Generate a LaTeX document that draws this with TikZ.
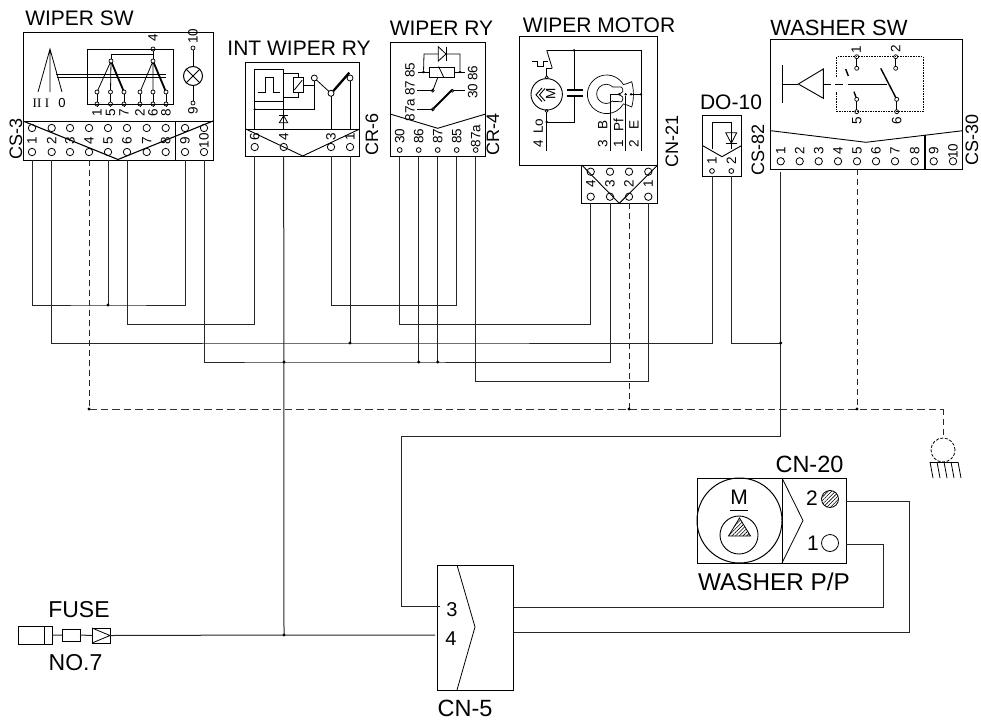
\documentclass[tikz,border=0pt]{standalone}
\usepackage{fontspec}
\setmainfont{Liberation Sans}
\newfontfamily\serifI{Liberation Serif}
\usetikzlibrary{patterns,patterns.meta}
\tikzset{
  wire/.style={line width=1pt,black!85},
  thin1/.style={line width=.8pt},
  thick1/.style={line width=2.3pt},
  dash1/.style={line width=.9pt,dash pattern=on 6pt off 4pt,black!85},
  dash2/.style={line width=1pt,dash pattern=on 7.5pt off 4pt,black!80},
  edge1/.style={line width=.9pt},
  boxs/.style={draw,line width=1pt,inner sep=0pt,outer sep=0pt},
  pin/.style={circle,draw,line width=.8pt,inner sep=0pt,minimum size=7.4pt,outer sep=0pt},
  spin/.style={circle,draw,line width=.8pt,inner sep=0pt,minimum size=4.8pt,outer sep=0pt},
  tp/.style={circle,draw,line width=.7pt,inner sep=0pt,minimum size=4pt,outer sep=0pt},
  jd/.style={circle,fill=black,inner sep=0pt,minimum size=3.4pt,outer sep=0pt},
  big/.style={inner sep=0pt,font=\fontsize{21}{21}\selectfont},
  bigger/.style={inner sep=0pt,font=\fontsize{23.5}{23.5}\selectfont},
  side/.style={inner sep=0pt,rotate=90,font=\fontsize{18}{18}\selectfont},
  num/.style={inner sep=0pt,rotate=90,font=\fontsize{13.5}{13.5}\selectfont},
  hatch/.style={pattern={Lines[angle=45,distance=2.6pt,line width=.6pt]}},
}
\newcommand{\boxn}[5]{%
  \pgfmathsetmacro\bw{#4-#2}\pgfmathsetmacro\bh{#5-#3}%
  \pgfmathsetmacro\bx{(#2+#4)/2}\pgfmathsetmacro\by{(#3+#5)/2}%
  \node[boxs,minimum width=\bw pt,minimum height=\bh pt] (#1) at (\bx,\by) {};}
\begin{document}
\begin{tikzpicture}[x=1pt,y=-1pt]
\useasboundingbox (0,0) rectangle (981,720);
\fill[white] (0,0) rectangle (981,720);

% ---------- titles
\node[big] (tsw) at (79.5,18) {WIPER SW};
\node[big] (tint) at (299,48) {INT WIPER RY};
\node[big] (trly) at (441.5,28) {WIPER RY};
\node[big] (tmot) at (599,25) {WIPER MOTOR};
\node[big] (tdo) at (731,102) {DO-10};
\node[big,font=\fontsize{22}{22}\selectfont] (twsh) at (839,28) {WASHER SW};
\node[bigger] (tcn20) at (809.5,464) {CN-20};
\node[bigger,font=\fontsize{24.3}{24.3}\selectfont] (tpp) at (774,582) {WASHER P/P};
\node[bigger,font=\fontsize{23}{23}\selectfont] (tfuse) at (79,610) {FUSE};
\node[bigger,font=\fontsize{23}{23}\selectfont] (tno) at (75.5,663) {NO.7};
\node[bigger] (tcn5) at (465,708) {CN-5};
\node[side] (scs3) at (16,139) {CS-3};
\node[side] (scr6) at (372,134) {CR-6};
\node[side] (scr4) at (493,134) {CR-4};
\node[side] (scn21) at (672,141) {CN-21};
\node[side] (scs82) at (758,150) {CS-82};
\node[side] (scs30) at (972,140) {CS-30};

% ---------- WIPER SW
\boxn{swbox}{23}{32}{213}{160}
\draw[edge1] (swbox.west |- 0,121) -- (swbox.east |- 0,121);
\draw[line width=1.1pt] (23,121) -- (118,159.5) -- (213,121);
\draw[line width=1.6pt] (175.5,121) -- (175.5,160);
\foreach \n/\x in {1/32,2/51.7,3/70,4/89,5/108,6/127,7/146.7,8/165.7,9/185,10/204}{
  \node[pin] (swt\n) at (\x,128) {};
  \node[pin] (sw\n) at (\x,152) {};
  \node[num] (swl\n) at (\x,140.5) {\n};
}
\draw[thin1] (38,92) -- (50,49) -- (62,92) (50,49) -- (50,92);
\draw[thin1] (56,74.7) -- (166,74.7) (57,77) -- (166,77);
\node[inner sep=0pt,font=\serifI\fontsize{13}{13}\selectfont] (sII) at (37,103) {II};
\node[inner sep=0pt,font=\serifI\fontsize{13}{13}\selectfont] (sI) at (47,103) {I};
\node[inner sep=0pt,font=\fontsize{13}{13}\selectfont] (s0) at (62,103) {0};
\draw[thin1] (87,49) rectangle (173,104);
\node[tp] (sp1) at (111,61) {};
\node[tp] (sp2) at (153,61) {};
\node[tp] (sp4) at (153,49) {};
\draw[thin1] (sp4) -- (sp2);
\draw[thin1] (153,54) -- (111,54) -- (sp1);
\foreach \n/\x in {1/97,5/110.5,7/124,2/140,6/153,8/166}{
  \node[tp] (sc\n) at (\x,92) {};
  \node[tp] (sd\n) at (\x,104) {};
  \draw[thin1] (sc\n) -- (sd\n) -- ++(0,3);
  \node[num] (sl\n) at (\x,113) {\n};
}
\draw[thin1] (sp1) -- (sc1) (sp1) -- (sc5) (sp2) -- (sc2) (sp2) -- (sc6);
\draw[line width=1.8pt] (sp1) -- (sc7) (sp2) -- (sc8);
\node[num] (sl4) at (153,38) {4};
\node[num] (sl10) at (193,36) {10};
\node[num] (sl9) at (193,111) {9};
\node[tp] (la) at (193,48) {};
\node[tp] (lb) at (193,103) {};
\node[circle,draw,line width=1pt,inner sep=0pt,minimum size=19pt] (lamp) at (193,76) {};
\draw[thin1] (la) -- (lamp) (lb) -- (lamp);
\draw[thin1] (lamp.45) -- (lamp.225) (lamp.135) -- (lamp.315);

% ---------- INT WIPER RY
\boxn{intbox}{245.7}{62}{359.7}{156}
\draw[edge1] (245.7,129) -- (359.7,129);
\draw[edge1] (245.7,129) -- (302.7,156) -- (359.7,129);
\foreach \n/\x in {6/254.7,4/283.7,3/331,1/350}{
  \node[pin] (int\n) at (\x,147) {};
  \node[num] (intl\n) at (\x,137) {\n};
}
\draw[thin1] (254.7,69) rectangle (283.7,101);
\draw[thin1] (257.7,92.3) -- (265,92.3) -- (265,77.3) -- (273.3,77.3) -- (273.3,92.3) -- (280.3,92.3);
\draw[thin1] (283.7,73.3) -- (298.3,73.3) -- (298.3,77.7);
\draw[thin1] (283.7,97.3) -- (298.3,97.3) -- (298.3,92.3);
\draw[thin1] (293.3,77.7) rectangle (303.3,92.3);
\draw[thin1] (294.3,90) -- (302.3,80);
\draw[thin1] (303.3,85) -- (314.3,85);
\draw[thin1] (254.7,101) -- (254.7,129);
\draw[thin1] (283.7,101) -- (283.7,129);
\draw[thin1] (279.3,122.7) -- (287.7,122.7) -- (283.7,115.7) -- cycle;
\draw[thin1] (279,115.7) -- (288.2,115.7);
\node[spin,minimum size=6pt] (ia) at (314.3,78) {};
\node[spin,minimum size=6pt] (ib) at (331,93.3) {};
\node[spin,minimum size=6pt] (ic) at (350,78) {};
\draw[thin1] (ia) -- (ib);
\draw[thin1] (ia) -- (314.3,109.3) -- (254.7,109.3);
\node[jd,minimum size=2.5pt] (ij) at (254.7,109.3) {};
\draw[thick1] (ib.north east) -- (349.3,72.7);
\draw[thin1] (ib) -- (331,129) (ic) -- (350,129);

% ---------- WIPER RY
\boxn{rlybox}{390}{42.3}{485.7}{156.7}
\draw[edge1] (390,114) -- (437.7,128.3) -- (485.7,114);
\foreach \n/\x/\l in {30/399.7/30,86/418.7/86,87/437.7/87,85/456.7/85,a/475.7/87a}{
  \node[spin] (rly\n) at (\x,150) {};
  \node[num] (rlyl\n) at (\x,136) {\l};
}
\node[num] (rt85) at (410,70) {85};
\node[num] (rt87) at (410,88) {87};
\node[num] (rt87a) at (410,110) {87a};
\node[num] (rt86) at (472.7,73) {86};
\node[num] (rt30) at (472.7,91) {30};
\draw[thin1] (429.3,67.7) rectangle (454.7,77.7);
\draw[thin1] (438.5,66.5) -- (444,77.7);
\draw[thin1] (418.3,72) -- (429.3,72) (454.7,72) -- (465,72);
\node[jd,minimum size=2.8pt] (r1) at (423.5,72) {};
\node[jd,minimum size=2.8pt] (r2) at (460,72) {};
\draw[thin1] (r1) -- (424,54) -- (438.3,54) (446.3,54) -- (460,54) -- (r2);
\draw[thin1] (438.3,46.7) -- (438.3,61) -- (446,54) -- cycle;
\draw[thin1] (446,46.7) -- (446,61);
\draw[thin1] (437.7,77.7) -- (433,90);
\draw[thin1] (417,90.7) -- (432.5,90.7) (452.5,90.7) -- (465,90.7) (417,109.3) -- (432.5,109.3);
\node[tp,minimum size=3pt] (r3) at (432.7,90.7) {};
\node[tp,minimum size=3pt] (r4) at (452.3,90.7) {};
\node[tp,minimum size=3pt] (r5) at (432.7,109.3) {};
\draw[line width=1.8pt] (r5) -- (452,90);

% ---------- WIPER MOTOR
\boxn{motbox}{519.3}{36}{657.7}{165}
\boxn{motcon}{581.7}{165}{657.7}{203.3}
\draw[edge1] (581.7,165) -- (619.3,203.3) -- (657.7,165);
\foreach \n/\x in {4/590.7,3/610,2/629,1/648.3}{
  \node[pin] (mott\n) at (\x,171.7) {};
  \node[pin] (mot\n) at (\x,196.7) {};
  \node[num] (motl\n) at (\x,183.5) {\n};
}
\node[circle,draw,line width=.9pt,inner sep=0pt,minimum size=31.4pt] (mm) at (546.7,94.3) {};
\node[tp,minimum size=3pt] (ma) at (546.7,77.3) {};
\node[tp,minimum size=3pt] (mb) at (546.7,111) {};
\node[inner sep=0pt,rotate=90,font=\fontsize{13.5}{13.5}\selectfont] (mM) at (550.7,94.3) {M};
\draw[line width=.9pt] (542,88) -- (536,94.8) -- (542,101.6);
\draw[line width=.9pt] (545,88.5) -- (539.5,94.8) -- (545,101);
\draw[thin1] (mb) -- (546.7,150.7);
\draw[thin1] (546.7,122) -- (574,122) -- (574,96);
\node[jd,minimum size=2.6pt] (m1) at (546.7,122) {};
\draw[line width=1.3pt] (566.7,90) -- (582.7,90) (566.7,96) -- (582.7,96);
\draw[thin1] (574,90) -- (574,50.3);
\node[jd,minimum size=2.6pt] (m2) at (574,50.3) {};
\draw[thin1] (546.7,50.3) -- (641,50.3) -- (641,150.7);
\draw[thin1] (546.7,50.3) -- (552.3,68.3);
\draw[thin1] (532.3,61.7) -- (537,61.7) -- (537,66.7) -- (543.5,66.7) -- (543.5,61.7) -- (547.5,61.7);
\draw[thin1] (546.7,68.3) -- (552.3,68.3) (546.7,68.3) -- (ma);
% cam
\draw[line width=.7pt] (623.4,84.65) arc[start angle=30,end angle=330,radius=19.3pt]
  .. controls (626,104.6) and (629,105.5) .. (631.7,107)
  .. controls (634,99) and (634,90) .. (631.7,81.7)
  .. controls (629,83) and (626,84) .. (623.4,84.65);
\draw[line width=.7pt] plot[smooth,tension=.6] coordinates {(613,101.5) (618,101.5) (621.7,101.7) (622.7,97) (618.3,94.3)};
\draw[line width=.7pt] plot[smooth,tension=.6] coordinates {(618.3,94.3) (622.7,91.7) (621.7,87.3) (618,87) (613,87.1)};
\draw[line width=.7pt] (613,87.1) arc[start angle=45,end angle=315,radius=9.6pt];
\node[jd,minimum size=2.6pt] (c1) at (619.3,94.3) {};
\node[jd,minimum size=2.6pt] (c2) at (625.7,94.3) {};
\node[jd,minimum size=2.6pt] (c3) at (631,94.3) {};
\node[jd,minimum size=2.6pt] (c4) at (641,94.3) {};
\draw[thin1] (610,150.7) -- (610,94.3) -- (c1);
\draw[thin1] (c2) -- (625.7,150.7);
\draw[thin1] (c3) -- (c4);
\foreach \t/\x/\y/\m in {4/538.3/144/a,Lo/538.3/126/b,3/602.7/144/c,B/602.7/125/d,1/618.5/144/e,Pf/618.5/125/f,2/634/144/g,E/634/125/h}{
  \node[num] (mtx\m) at (\x,\y) {\t};
}

% ---------- DO-10
\boxn{dobox}{702.7}{115}{741.3}{176}
\draw[edge1] (702.7,145.7) -- (722,156.7) -- (741.3,145.7);
\foreach \n/\x in {1/712,2/731.3}{
  \node[spin] (do\n) at (\x,171) {};
  \node[num] (dol\n) at (\x,160.5) {\n};
}
\draw[thin1] (712.3,149) -- (712.3,122.3) -- (731.3,122.3) -- (731.3,149);
\draw[thin1] (725.7,132.7) -- (736.7,132.7) -- (731.3,143.3) -- cycle;
\draw[line width=1.3pt] (725.7,143.3) -- (736.7,143.3);

% ---------- WASHER SW
\boxn{wbox}{770.7}{39}{962.7}{169}
\draw[edge1] (770.7,130.7) -- (866,142.3) -- (962.7,130.7);
\draw[line width=1.6pt] (925,135) -- (925,169);
\foreach \n/\x in {1/780.7,2/799.7,3/818.7,4/838,5/857,6/876,7/895,8/914.7,9/933.7,10/953}{
  \node[pin] (wsw\n) at (\x,161.3) {};
  \node[num] (wl\n) at (\x,151) {\n};
}
\draw[line width=1pt] (782.3,65) -- (782.3,103.3) (782.3,84) -- (798.3,84);
\draw[line width=.9pt] (798.3,84) -- (823.3,69) -- (823.3,98.3) -- cycle;
\draw[line width=.9pt] (823.3,84) -- (830.7,84) (835,84) -- (843.3,84) (848.3,84) -- (886.7,84);
\draw[line width=.8pt,dash pattern=on 1.6pt off 1pt] (836.7,76.7) -- (836.7,56.7) -- (923.3,56.7) -- (923.3,111.7) -- (836.7,111.7) -- (836.7,91.7);
\node[tp] (wa) at (856.7,56.7) {};
\node[tp] (wb) at (856.7,68.3) {};
\node[tp] (wc) at (895.7,56.7) {};
\node[tp] (wd) at (895.7,68.3) {};
\node[tp] (we) at (856.7,111.7) {};
\node[tp] (wf) at (856.7,99.3) {};
\node[tp] (wg) at (896.7,111.7) {};
\node[tp] (wh) at (896.7,99.3) {};
\draw[thin1] (wa) -- (wb) (wc) -- (wd) (we) -- (wf) (wg) -- (wh);
\draw[line width=1.4pt] (wh) -- (880.7,68.3);
\draw[line width=1.4pt] (wf) -- (854,91.7) (848.3,76) -- (845.7,69);
\node[num] (wn1) at (856.3,50) {1};
\node[num] (wn2) at (895.7,49) {2};
\node[num] (wn5) at (856.7,120.7) {5};
\node[num] (wn6) at (896.7,120.7) {6};

% ---------- CN-5
\boxn{cnbox}{437.7}{565}{513.7}{690}
\draw[thin1] (457,565) -- (475,627) -- (457,690);
\node[inner sep=0pt,font=\fontsize{20}{20}\selectfont] (cn3) at (452,610) {3};
\node[inner sep=0pt,font=\fontsize{20}{20}\selectfont] (cn4) at (451,639) {4};

% ---------- CN-20 / pump
\boxn{ppbox}{697}{478}{846}{563}
\draw[edge1] (782,478) -- (782,563);
\draw[thin1] (782,478) -- (803,520.5) -- (782,563);
\node[circle,draw,line width=1pt,inner sep=0pt,minimum size=85pt] (pm) at (739.5,520.5) {};
\node[circle,draw,line width=.9pt,inner sep=0pt,minimum size=38pt] (pi) at (739,535) {};
\draw[thin1,hatch] (739.5,518) -- (750.5,536) -- (728.5,536) -- cycle;
\node[inner sep=0pt,font=\fontsize{21}{21}\selectfont] (pM) at (739,497) {M};
\draw[thin1] (730,510) -- (748,510);
\node[inner sep=0pt,font=\fontsize{21}{21}\selectfont] (p2) at (812,498) {2};
\node[inner sep=0pt,font=\fontsize{21}{21}\selectfont] (p1) at (813,543) {1};
\node[circle,draw,line width=.8pt,inner sep=0pt,minimum size=17pt,hatch] (pc2) at (830,499) {};
\node[circle,draw,line width=.8pt,inner sep=0pt,minimum size=17pt] (pc1) at (830,543) {};

% ---------- fuse
\boxn{fb}{18}{626}{52}{644}
\draw[edge1] (44.5,626) -- (44.5,644);
\boxn{ff}{62}{629}{80}{641}
\boxn{fconn}{92}{628}{110}{643}
\draw[thin1] (92,628) -- (110,635.5) -- (92,643);
\draw[wire] (fb.east) -- (ff.west) (ff.east) -- (fconn.west);

% ---------- ground
\node[circle,draw,line width=.8pt,dash pattern=on 3pt off 1.6pt,inner sep=0pt,minimum size=24pt] (gnd) at (943,450) {};
\draw[line width=1pt] (930,462) -- (958,462);
\foreach \x in {930,937,944,951,958}{\draw[thin1] (\x,462) -- (\x+3,478);}

% ---------- wires
\coordinate (j5) at (108,305);
\coordinate (a2) at (127,324);
\coordinate (b3) at (350,343);
\coordinate (c4) at (284,362);
\coordinate (c86) at (418.7,362);
\coordinate (c87) at (437.7,362);
\coordinate (f4) at (284,635);
\coordinate (cnin4) at (435,635);
\coordinate (d6) at (331,305);
\coordinate (e7) at (399.7,324);
\coordinate (g8) at (475.7,381);
\coordinate (k) at (780.7,343);
\coordinate (m) at (780.7,436.5);
\coordinate (n) at (401.5,606.5);
\coordinate (cnin3) at (440,606.5);
\coordinate (o3) at (513.7,607);
\coordinate (o4) at (513.7,632);
\coordinate (q1) at (883,544);
\coordinate (q2) at (909,501);
\coordinate (r1e) at (846,544);
\coordinate (r2e) at (846,501);
\coordinate (h0) at (89,409);
\coordinate (h2) at (629,409);
\coordinate (h5) at (857,409);
\coordinate (h9) at (943,409);
\coordinate (wtop) at (780.7,171.5);

\draw[wire] (sw1 |- swbox.south) |- (j5) -| (sw9 |- swbox.south);
\draw[wire] (sw5 |- swbox.south) -- (j5);
\draw[wire] (sw6 |- swbox.south) |- (a2) -| (int6 |- intbox.south);
\draw[wire] (sw2 |- swbox.south) |- (b3) -| (do1 |- dobox.south);
\draw[wire] (int1 |- intbox.south) -- (b3);
\draw[wire] (sw10 |- swbox.south) |- (c4) -| (mot3 |- motcon.south);
\draw[wire] (rly86 |- rlybox.south) -- (c86);
\draw[wire] (rly87 |- rlybox.south) -- (c87);
\draw[wire] (int4 |- intbox.south) -- (f4);
\draw[wire] (fconn.east) -- (f4) -- (cnin4);
\draw[wire] (int3 |- intbox.south) |- (rly85 |- d6) -- (rly85 |- rlybox.south);
\draw[wire] (rly30 |- rlybox.south) -- (e7) -| (mot4 |- motcon.south);
\draw[wire] (rlya |- rlybox.south) -- (g8) -| (mot1 |- motcon.south);
\draw[wire] (do2 |- dobox.south) |- (k);
\draw[wire] (wtop) -- (k) -- (m) -| (n) -- (cnin3);
\draw[wire] (o3) -| (q1) -- (r1e);
\draw[wire] (o4) -| (q2) -- (r2e);
\draw[dash1] (sw4 |- swbox.south) -- (h0);
\draw[dash2] (h0) -- (h9);
\draw[dash1] (h9) -- (gnd.north);
\draw[dash1] (mot2 |- motcon.south) -- (h2);
\draw[dash1] (wsw5 |- wbox.south) -- (h5);
\foreach \j in {j5,b3,c4,c86,c87,f4,k,h0,h2,h5}{\node[jd] (dot\j) at (\j) {};}
\end{tikzpicture}
\end{document}
